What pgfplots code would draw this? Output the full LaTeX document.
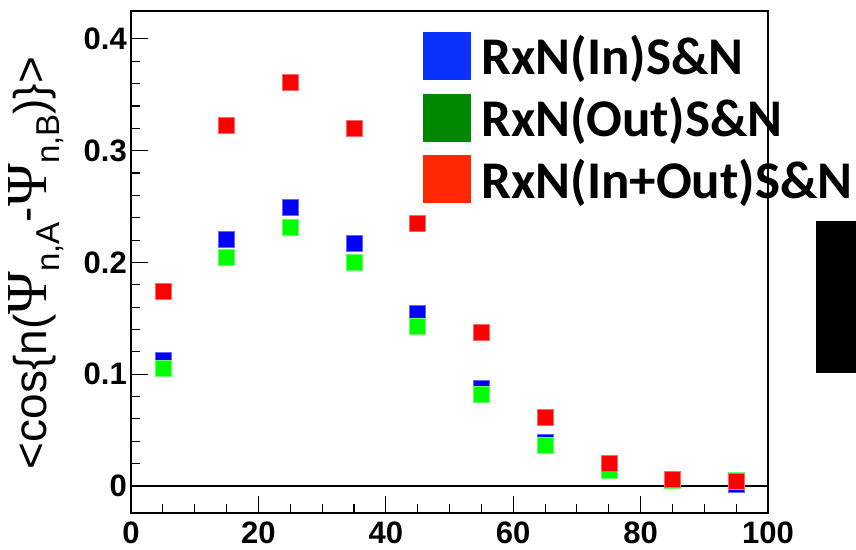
\documentclass[border=0pt]{standalone}
\usepackage{pgfplots}
\pgfplotsset{compat=1.18}
\usepackage{fontspec}
\setmainfont{Liberation Sans}
\newfontfamily\carlito{Carlito}
\newfontfamily\lserif{Liberation Serif}
\definecolor{pblue}{RGB}{0,0,255}
\definecolor{pgreen}{RGB}{0,255,0}
\definecolor{pred}{RGB}{255,0,0}
\definecolor{lblue}{RGB}{10,50,255}
\definecolor{lgreen}{RGB}{0,136,0}
\definecolor{lred}{RGB}{255,40,0}
\newcommand{\Psib}{{\lserif\fontsize{58}{58}\selectfont Ψ}}
\begin{document}
\begin{tikzpicture}
\path[use as bounding box] (-131pt,-36pt) rectangle (725pt,513pt);
\begin{axis}[
  scale only axis,
  width=637pt, height=502pt,
  xmin=0, xmax=100, ymin=-0.0242, ymax=0.425,
  xtick={0,20,40,60,80,100},
  ytick={0,0.1,0.2,0.3,0.4},
  minor x tick num=3,
  minor y tick num=4,
  tick align=inside,
  xtick pos=bottom, ytick pos=left,
  major tick length=17pt,
  minor tick length=9pt,
  every tick/.style={black, line width=1.1pt},
  axis line style={line width=1.4pt},
  /pgf/number format/assume math mode=true,
  tick label style={font=\bfseries\fontsize{31}{31}\selectfont},
  yticklabel style={inner sep=0pt, xshift=-4pt},
  xticklabel style={inner sep=0pt, yshift=-9pt},
  yticklabel={\pgfmathprintnumber[fixed,precision=1]{\tick}},
  ylabel={<cos\{n(\Psib\raisebox{-0.3em}{\fontsize{33}{33}\selectfont n,A}\raisebox{0.1em}{-}\Psib\raisebox{-0.3em}{\fontsize{33}{33}\selectfont n,B})\}>},
  ylabel style={font=\fontsize{46}{46}\selectfont, at={(axis description cs:-0.149,0.498)}, anchor=center, inner sep=0pt},
  legend style={at={(axis description cs:0.4584,0.9582)}, anchor=north west, draw=none, fill=none, inner sep=0pt, outer sep=0pt,
    font=\carlito\bfseries\fontsize{53}{53}\selectfont,
    nodes={inner sep=0pt, text height=33pt, text depth=14pt},
    row sep=5pt, column sep=11pt},
  legend cell align=left,
]
\addplot[black, line width=1.3pt, forget plot] coordinates {(0,0) (100,0)};
\addplot[only marks, mark=square*, mark size=8pt, mark options={fill=pblue, draw=pblue!60, line width=0.4pt},
  legend image code/.code={\fill[lblue] (0pt,-14pt) rectangle (47pt,33pt);}]
coordinates {(5,0.1125) (15,0.2204) (25,0.2492) (35,0.2170) (45,0.1545) (55,0.0877) (65,0.0388) (75,0.0145) (85,0.0058) (95,0.0018)};
\addlegendentry{RxN(In)S\&N}
\addplot[only marks, mark=square*, mark size=8pt, mark options={fill=pgreen, draw=pgreen!60, line width=0.4pt},
  legend image code/.code={\fill[lgreen] (0pt,-14pt) rectangle (47pt,33pt);}]
coordinates {(5,0.1056) (15,0.2049) (25,0.2312) (35,0.2000) (45,0.1429) (55,0.0821) (65,0.0364) (75,0.0137) (85,0.0054) (95,0.0051)};
\addlegendentry{RxN(Out)S\&N}
\addplot[only marks, mark=square*, mark size=8pt, mark options={fill=pred, draw=pred!60, line width=0.4pt},
  legend image code/.code={\fill[lred] (0pt,-14pt) rectangle (47pt,33pt);}]
coordinates {(5,0.1739) (15,0.3231) (25,0.3617) (35,0.3204) (45,0.2347) (55,0.1378) (65,0.0615) (75,0.0206) (85,0.0063) (95,0.0042)};
\addlegendentry{RxN(In+Out)S\&N}
\end{axis}
\fill[black] (685pt,140pt) rectangle (725pt,292pt);
\end{tikzpicture}
\end{document}
